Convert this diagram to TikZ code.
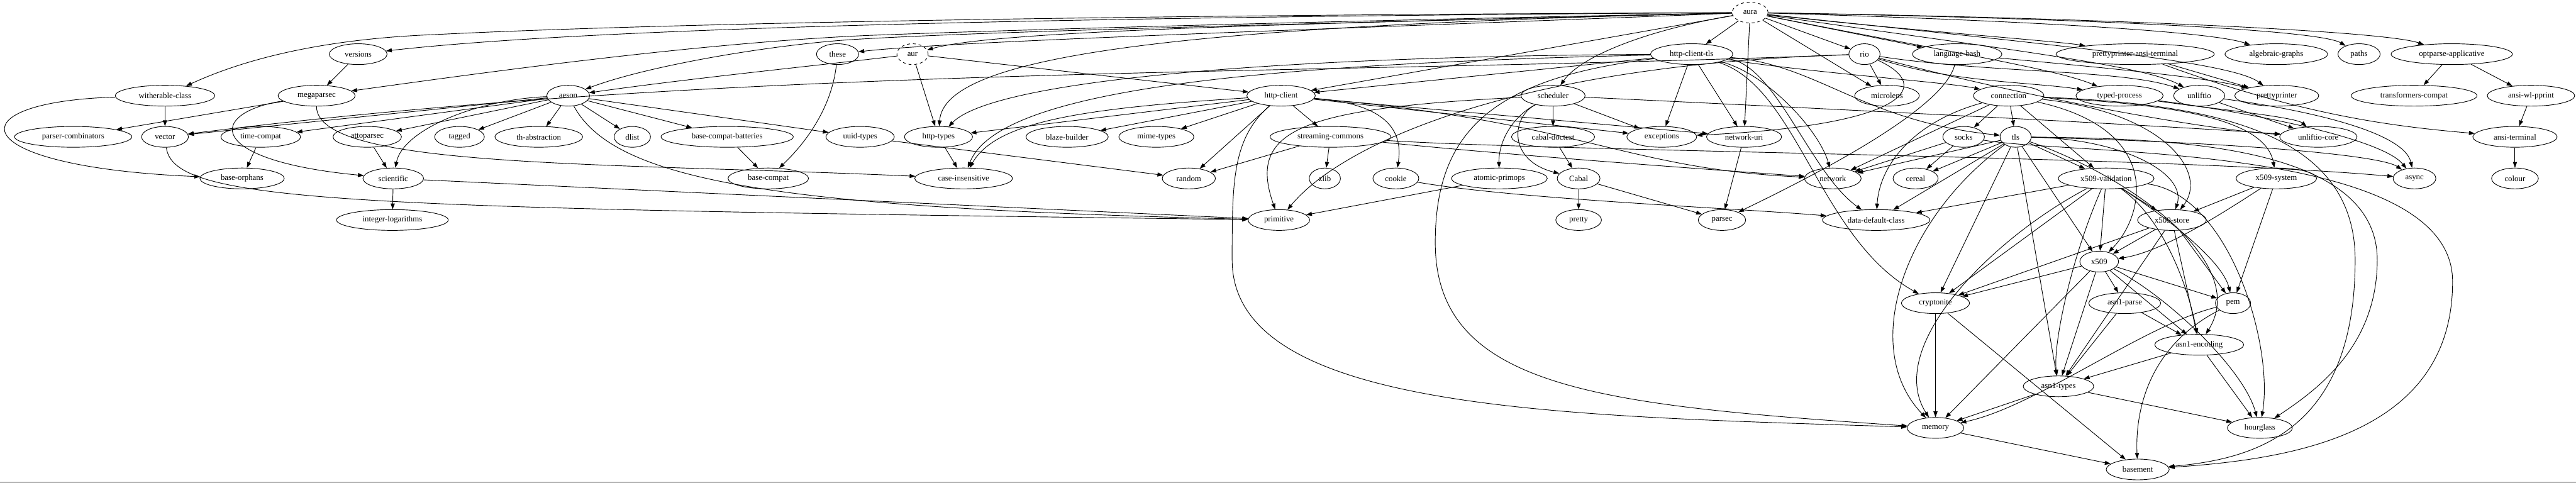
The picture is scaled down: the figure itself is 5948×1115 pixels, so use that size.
\documentclass[tikz,border=0pt]{standalone}
\usepackage{fontspec}
\setmainfont{Liberation Serif}
\usetikzlibrary{arrows.meta, shapes.geometric}

\begin{document}
\begin{tikzpicture}[
    x=0.75pt, y=-0.75pt,
    >={Triangle[length=10pt, width=7pt]},
    every node/.style={font=\fontsize{14pt}{16pt}\selectfont},
]
% ============================================================
% Styles
% ============================================================
\tikzset{
    pkg/.style={draw, ellipse, line width=1pt, minimum height=36pt, inner sep=0pt},
    virtual/.style={pkg, dash pattern=on 5pt off 5pt},
    dep/.style={->, line width=1pt},
}
\useasboundingbox (0,0) rectangle (5948,1115);
\draw[black!30, line width=1.5pt] (0,1114) -- (5948,1114);

% ============================================================
% Packages, rank by rank (y in px of the layout)
% ============================================================
% --- rank 0 ---
\node[virtual, minimum width=62pt] (aura) at (4041,29) {aura};
% --- rank 1 ---
\node[pkg, minimum width=100pt] (versions) at (827,125) {versions};
\node[pkg, minimum width=73pt] (these) at (1934,125) {these};
\node[virtual, minimum width=54pt] (aur) at (2107,125) {aur};
\node[pkg, minimum width=142.5pt] (httpclienttls) at (3906,125) {http-client-tls};
\node[pkg, minimum width=54pt] (rio) at (4305,125) {rio};
\node[pkg, minimum width=155pt] (languagebash) at (4519,125) {language-bash};
\node[pkg, minimum width=274pt] (ppansi) at (4930,125) {prettyprinter-ansi-terminal};
\node[pkg, minimum width=178pt] (algebraic) at (5256,125) {algebraic-graphs};
\node[pkg, minimum width=73pt] (paths) at (5447,125) {paths};
\node[pkg, minimum width=210pt] (optparse) at (5661,125) {optparse-applicative};
% --- rank 2 ---
\node[pkg, minimum width=172.5pt] (witherable) at (381,221) {witherable-class};
\node[pkg, minimum width=133.5pt] (megaparsec) at (731,221) {megaparsec};
\node[pkg, minimum width=74pt] (aeson) at (1312,221) {aeson};
\node[pkg, minimum width=118.5pt] (httpclient) at (2958,221) {http-client};
\node[pkg, minimum width=111pt] (scheduler) at (3586,221) {scheduler};
\node[pkg, minimum width=112pt] (microlens) at (4357,221) {microlens};
\node[pkg, minimum width=122pt] (connection) at (4638,221) {connection};
\node[pkg, minimum width=151pt] (typedprocess) at (4894,221) {typed-process};
\node[pkg, minimum width=88.5pt] (unliftio) at (5078,221) {unliftio};
\node[pkg, minimum width=145.5pt] (prettyprinter) at (5257,221) {prettyprinter};
\node[pkg, minimum width=218pt] (transcompat) at (5574,221) {transformers-compat};
\node[pkg, minimum width=151.5pt] (ansiwl) at (5844,221) {ansi-wl-pprint};
% --- rank 3 ---
\node[pkg, minimum width=203pt] (parsercomb) at (169,316) {parser-combinators};
\node[pkg, minimum width=81pt] (vector) at (381,316) {vector};
\node[pkg, minimum width=138pt] (timecompat) at (602,316) {time-compat};
\node[pkg, minimum width=118.5pt] (attoparsec) at (848,316) {attoparsec};
\node[pkg, minimum width=86pt] (tagged) at (1061,316) {tagged};
\node[pkg, minimum width=152pt] (thabs) at (1244,316) {th-abstraction};
\node[pkg, minimum width=63pt] (dlist) at (1460,316) {dlist};
\node[pkg, minimum width=229pt] (bcb) at (1679,316) {base-compat-batteries};
\node[pkg, minimum width=118.5pt] (uuidtypes) at (1986,316) {uuid-types};
\node[pkg, minimum width=118pt] (httptypes) at (2167,316) {http-types};
\node[pkg, minimum width=142.5pt] (blaze) at (2464,316) {blaze-builder};
\node[pkg, minimum width=130pt] (mimetypes) at (2670,316) {mime-types};
\node[pkg, minimum width=209pt] (streaming) at (3072,316) {streaming-commons};
\node[pkg, minimum width=144pt] (cabaldoctest) at (3586,316) {cabal-doctest};
\node[pkg, minimum width=121pt] (exceptions) at (3837,316) {exceptions};
\node[pkg, minimum width=130pt] (networkuri) at (4027,316) {network-uri};
\node[pkg, minimum width=72pt] (socks) at (4534,316) {socks};
\node[pkg, minimum width=54pt] (tls) at (4654,316) {tls};
\node[pkg, minimum width=134pt] (unliftiocore) at (5353,316) {unliftio-core};
\node[pkg, minimum width=146pt] (ansiterminal) at (5807,316) {ansi-terminal};
% --- rank 4 ---
\node[pkg, minimum width=146pt] (baseorphans) at (559,412) {base-orphans};
\node[pkg, minimum width=105pt] (scientific) at (908,412) {scientific};
\node[pkg, minimum width=139.5pt] (basecompat) at (1774,412) {base-compat};
\node[pkg, minimum width=169.5pt] (caseins) at (2225,412) {case-insensitive};
\node[pkg, minimum width=92pt] (random) at (2745,412) {random};
\node[pkg, minimum width=54pt] (zlib) at (3059,412) {zlib};
\node[pkg, minimum width=79.5pt] (cookie) at (3223,412) {cookie};
\node[pkg, minimum width=166pt] (atomicprimops) at (3462,412) {atomic-primops};
\node[pkg, minimum width=74pt] (cabal) at (3645,412) {Cabal};
\node[pkg, minimum width=98pt] (network) at (4232,412) {network};
\node[pkg, minimum width=78pt] (cereal) at (4423,412) {cereal};
\node[pkg, minimum width=166pt] (x509validation) at (4863,412) {x509-validation};
\node[pkg, minimum width=139.5pt] (x509system) at (5256,412) {x509-system};
\node[pkg, minimum width=74pt] (async) at (5575,412) {async};
\node[pkg, minimum width=81pt] (colour) at (5807,412) {colour};
% --- rank 5 ---
\node[pkg, minimum width=193.5pt] (integerlog) at (906,508) {integer-logarithms};
\node[pkg, minimum width=106.5pt] (primitive) at (2953,508) {primitive};
\node[pkg, minimum width=79pt] (pretty) at (3645,508) {pretty};
\node[pkg, minimum width=82pt] (parsec) at (3976,508) {parsec};
\node[pkg, minimum width=186pt] (datadefault) at (4332,508) {data-default-class};
\node[pkg, minimum width=119pt] (x509store) at (5015,508) {x509-store};
% --- ranks 6 to 11 ---
\node[pkg, minimum width=67pt] (x509) at (4847,604) {x509};
\node[pkg, minimum width=118pt] (cryptonite) at (4469,700) {cryptonite};
\node[pkg, minimum width=124.5pt] (asn1parse) at (4906,700) {asn1-parse};
\node[pkg, minimum width=61pt] (pem) at (5156,700) {pem};
\node[pkg, minimum width=154pt] (asn1encoding) at (5078,796) {asn1-encoding};
\node[pkg, minimum width=122pt] (asn1types) at (4753,892) {asn1-types};
\node[pkg, minimum width=98pt] (memory) at (4469,988) {memory};
\node[pkg, minimum width=112.5pt] (hourglass) at (5218,988) {hourglass};
\node[pkg, minimum width=109pt] (basement) at (4936,1084) {basement};

% ============================================================
% Dependencies: plain straight ones
% ============================================================
\foreach \a/\b in {aura/httpclient, aura/httpclienttls, aura/networkuri, aura/rio,
    aura/languagebash, aura/microlens, versions/megaparsec, witherable/vector,
    megaparsec/parsercomb, scientific/primitive, scientific/integerlog,
    aeson/vector, aeson/timecompat, aeson/attoparsec, aeson/tagged, aeson/thabs,
    aeson/dlist, aeson/bcb, aeson/uuidtypes, timecompat/baseorphans,
    attoparsec/scientific, bcb/basecompat, uuidtypes/random,
    aur/httptypes, aur/httpclient, httptypes/caseins,
    httpclient/httptypes, httpclient/blaze, httpclient/mimetypes, httpclient/random,
    httpclient/streaming, httpclient/exceptions, httpclient/networkuri,
    streaming/zlib, streaming/random,
    httpclienttls/httpclient, httpclienttls/exceptions, httpclienttls/networkuri,
    scheduler/cabaldoctest, scheduler/exceptions, cabaldoctest/cabal,
    cabal/pretty, cabal/parsec, atomicprimops/primitive, networkuri/parsec,
    rio/microlens, ppansi/prettyprinter, optparse/transcompat, optparse/ansiwl,
    ansiwl/ansiterminal, ansiterminal/colour, unliftio/unliftiocore,
    connection/socks, connection/tls, connection/network, connection/x509validation,
    socks/network, socks/cereal, tls/network, tls/cereal, tls/datadefault,
    tls/x509validation, tls/cryptonite, tls/asn1types, tls/x509,
    x509validation/datadefault, x509validation/x509store, x509validation/x509,
    x509validation/cryptonite, x509system/x509store, x509system/pem,
    x509store/x509, x509store/pem, x509store/asn1encoding, x509store/asn1types,
    x509store/cryptonite, x509/cryptonite, x509/asn1parse, x509/memory,
    x509/asn1types, x509/pem, x509/asn1encoding, cryptonite/memory,
    cryptonite/basement, asn1parse/asn1types, asn1parse/asn1encoding,
    asn1encoding/asn1types, asn1encoding/hourglass, asn1types/memory,
    asn1types/hourglass, memory/basement} {
    \draw[dep] (\a) -- (\b);
}

% ============================================================
% Dependencies: long curved ones
% ============================================================
% aura, to the left
\draw[dep] (aura) .. controls (2600,38) and (1400,60) .. (versions);
\draw[dep] (aura) .. controls (2500,35) and (1500,55) .. (1000,80)
    .. controls (800,88) and (600,120) .. (witherable);
\draw[dep] (aura) .. controls (3000,50) and (2300,70) .. (2000,82)
    .. controls (1600,100) and (1100,170) .. (megaparsec);
\draw[dep] (aura) .. controls (3000,55) and (2300,72) .. (1990,90)
    .. controls (1800,100) and (1500,150) .. (aeson);
\draw[dep] (aura) .. controls (3000,70) and (2200,95) .. (these);
\draw[dep] (aura) .. controls (3000,55) and (2300,70) .. (aur);
\draw[dep] (aura) .. controls (2700,60) and (2180,130) .. (httptypes);
\draw[dep] (aura) .. controls (3800,70) and (3650,130) .. (scheduler);
% aura, to the right
\draw[dep] (aura) .. controls (4400,70) and (4750,95) .. (ppansi);
\draw[dep] (aura) .. controls (4600,45) and (5100,70) .. (algebraic);
\draw[dep] (aura) .. controls (4700,40) and (5350,65) .. (paths);
\draw[dep] (aura) .. controls (4800,40) and (5500,70) .. (optparse);
\draw[dep] (aura) .. controls (4500,120) and (4750,160) .. (typedprocess);
\draw[dep] (aura) .. controls (4600,110) and (4950,150) .. (unliftio);
\draw[dep] (aura) .. controls (4700,100) and (5150,140) .. (prettyprinter);
% left block
\draw[dep] (witherable) .. controls (-110,235) and (-90,385) .. (baseorphans);
\draw[dep] (megaparsec) .. controls (480,260) and (470,370) .. (scientific);
\draw[dep] (megaparsec) .. controls (730,390) and (1400,375) .. (caseins);
\draw[dep] (vector) .. controls (400,470) and (800,480) .. (primitive);
\draw[dep] (aeson) .. controls (1100,230) and (930,300) .. (scientific);
\draw[dep] (aeson) .. controls (1420,420) and (1800,480) .. (primitive);
\draw[dep] (these) .. controls (1920,250) and (1860,330) .. (basecompat);
\draw[dep] (aur) .. controls (1900,150) and (1600,180) .. (aeson);
% rio
\draw[dep] (rio) .. controls (3000,175) and (1700,150) .. (vector);
\draw[dep] (rio) .. controls (3500,150) and (3100,330) .. (primitive);
\draw[dep] (rio) .. controls (4470,200) and (4400,290) .. (exceptions);
\draw[dep] (rio) .. controls (4500,190) and (4700,190) .. (typedprocess);
\draw[dep] (rio) .. controls (4600,170) and (4900,160) .. (unliftio);
\draw[dep] (rio) .. controls (4700,230) and (5100,300) .. (unliftiocore);
% http-client-tls
\draw[dep] (httpclienttls) .. controls (3000,130) and (2300,180) .. (httptypes);
\draw[dep] (httpclienttls) .. controls (2800,150) and (2300,220) .. (caseins);
\draw[dep] (httpclienttls) .. controls (3450,180) and (3314,300) .. (3314,560)
    .. controls (3314,900) and (3700,935) .. (memory);
\draw[dep] (httpclienttls) .. controls (4200,170) and (4500,190) .. (connection);
\draw[dep] (httpclienttls) .. controls (4200,150) and (4300,280) .. (tls);
\draw[dep] (httpclienttls) .. controls (4100,150) and (4180,400) .. (datadefault);
\draw[dep] (httpclienttls) .. controls (4080,170) and (4200,300) .. (network);
\draw[dep] (httpclienttls) .. controls (4150,200) and (4200,550) .. (cryptonite);
% http-client
\draw[dep] (httpclient) .. controls (2845,320) and (2845,420) .. (2845,600)
    .. controls (2845,950) and (3600,960) .. (memory);
\draw[dep] (httpclient) .. controls (2500,250) and (2300,280) .. (caseins);
\draw[dep] (httpclient) .. controls (3200,240) and (3240,300) .. (cookie);
\draw[dep] (httpclient) .. controls (3650,280) and (3750,390) .. (network);
% streaming-commons, scheduler, cookie, language-bash
\draw[dep] (streaming) .. controls (3500,360) and (4000,395) .. (network);
\draw[dep] (streaming) .. controls (3600,350) and (5000,360) .. (async);
\draw[dep] (scheduler) .. controls (3490,270) and (3460,330) .. (atomicprimops);
\draw[dep] (scheduler) .. controls (3490,270) and (3480,370) .. (cabal);
\draw[dep] (scheduler) .. controls (3000,250) and (2880,300) .. (primitive);
\draw[dep] (scheduler) .. controls (4200,250) and (5000,290) .. (unliftiocore);
\draw[dep] (cookie) .. controls (3500,460) and (4000,480) .. (datadefault);
\draw[dep] (languagebash) .. controls (4490,250) and (4200,400) .. (parsec);
\draw[dep] (languagebash) .. controls (4900,160) and (5100,180) .. (prettyprinter);
\draw[dep] (ppansi) .. controls (5300,260) and (5500,290) .. (ansiterminal);
% unliftio, typed-process
\draw[dep] (unliftio) .. controls (5300,250) and (5550,300) .. (async);
\draw[dep] (typedprocess) .. controls (5200,260) and (5500,320) .. (async);
\draw[dep] (typedprocess) .. controls (5100,250) and (5300,270) .. (unliftiocore);
% connection, socks, tls
\draw[dep] (connection) .. controls (4420,280) and (4340,380) .. (datadefault);
\draw[dep] (connection) .. controls (5000,240) and (5230,270) .. (x509system);
\draw[dep] (connection) .. controls (5000,260) and (5100,400) .. (x509store);
\draw[dep] (connection) .. controls (5000,300) and (4950,500) .. (x509);
\draw[dep] (connection) .. controls (5100,240) and (5438,300) .. (5438,600)
    .. controls (5438,1000) and (5200,1060) .. (basement);
\draw[dep] (socks) .. controls (4800,360) and (5663,330) .. (5663,650)
    .. controls (5663,1000) and (5300,1060) .. (basement);
\draw[dep] (tls) .. controls (5000,320) and (5489,330) .. (5489,600)
    .. controls (5489,800) and (5350,900) .. (hourglass);
\draw[dep] (tls) .. controls (4400,500) and (4290,800) .. (memory);
\draw[dep] (tls) .. controls (4900,400) and (5200,600) .. (asn1encoding);
\draw[dep] (tls) .. controls (4900,320) and (5050,400) .. (x509store);
\draw[dep] (tls) .. controls (5200,330) and (5500,360) .. (async);
% x509 family
\draw[dep] (x509validation) .. controls (5000,500) and (5130,600) .. (pem);
\draw[dep] (x509validation) .. controls (4600,550) and (4350,800) .. (memory);
\draw[dep] (x509validation) .. controls (4780,600) and (4740,800) .. (asn1types);
\draw[dep] (x509validation) .. controls (4990,500) and (5050,650) .. (asn1encoding);
\draw[dep] (x509validation) .. controls (5150,450) and (5250,800) .. (hourglass);
\draw[dep] (x509system) .. controls (5150,480) and (5000,580) .. (x509);
\draw[dep] (x509) .. controls (5000,680) and (5180,850) .. (hourglass);
\draw[dep] (pem) .. controls (4950,750) and (4700,940) .. (memory);
\draw[dep] (pem) .. controls (4960,800) and (4930,950) .. (basement);
\end{tikzpicture}
\end{document}
